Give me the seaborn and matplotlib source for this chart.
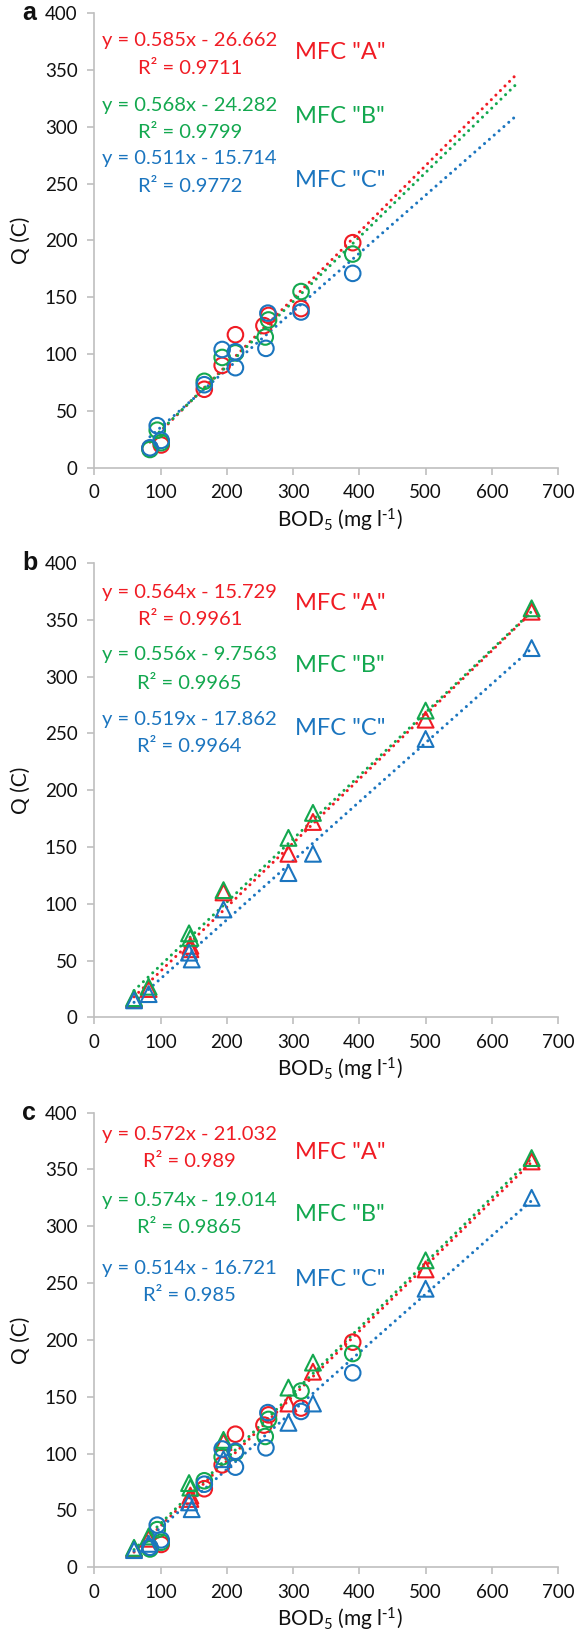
import matplotlib
matplotlib.use("Agg")
import matplotlib.pyplot as plt
import numpy as np
import seaborn as sns

# panel a: circles (BOD5 vs charge) for the three MFCs
circ_bod_A = [84, 101, 166, 193, 213, 256, 263, 312, 390]
circ_q_A = [17, 20, 69, 90, 117, 125, 134, 140, 198]
circ_bod_B = [84, 95, 101, 166, 193, 213, 258, 263, 312, 390]
circ_q_B = [16, 33, 22, 76, 97, 101, 115, 130, 155, 188]
circ_bod_C = [84, 95, 101, 166, 193, 213, 213, 259, 262, 312, 390]
circ_q_C = [17.5, 37, 24, 73, 104, 102, 88, 105, 136, 137, 171]

# panel b: triangles
tri_bod_A = [60, 82, 145, 145, 195, 293, 330, 500, 660]
tri_q_A = [16, 25, 63, 60, 110, 144, 172, 262, 357]
tri_bod_B = [60, 82, 143, 145, 195, 293, 330, 500, 660]
tri_q_B = [17, 27, 74, 70, 112, 158, 180, 270, 360]
tri_bod_C = [60, 82, 143, 147, 195, 293, 330, 500, 660]
tri_q_C = [15, 20.5, 57, 51, 95, 127, 144, 245, 325]

# trendline equations shown on each panel (A, B, C)
slope_a = [0.585, 0.568, 0.511]
icpt_a = [-26.662, -24.282, -15.714]
eq_a = ["y = 0.585x - 26.662", "y = 0.568x - 24.282", "y = 0.511x - 15.714"]
r2_a = ["0.9711", "0.9799", "0.9772"]

slope_b = [0.564, 0.556, 0.519]
icpt_b = [-15.729, -9.7563, -17.862]
eq_b = ["y = 0.564x - 15.729", "y = 0.556x - 9.7563", "y = 0.519x - 17.862"]
r2_b = ["0.9961", "0.9965", "0.9964"]

slope_c = [0.572, 0.574, 0.514]
icpt_c = [-21.032, -19.014, -16.721]
eq_c = ["y = 0.572x - 21.032", "y = 0.574x - 19.014", "y = 0.514x - 16.721"]
r2_c = ["0.989", "0.9865", "0.985"]

forecast_end_a = 640  # excel trendline forecast end in panel a

mfc_names = ['MFC "A"', 'MFC "B"', 'MFC "C"']
colors = ["#F01C24", "#13A84F", "#1B75BF"]

sns.set_theme(style="white")
plt.rcParams["font.family"] = ["Lato", "DejaVu Sans"]
plt.rcParams["mathtext.default"] = "regular"

fig = plt.figure(figsize=(5.82, 16.41), dpi=100)
left, width = 0.162, 0.797
ax_a = fig.add_axes([left, 0.715, width, 0.277])
ax_b = fig.add_axes([left, 0.380, width, 0.277])
ax_c = fig.add_axes([left, 0.045, width, 0.277])


def scatter(ax, xs, ys, marker, color, size):
    sns.scatterplot(x=xs, y=ys, ax=ax, marker=marker, s=size,
                    facecolor="none", edgecolor=color, linewidth=1.5,
                    zorder=3, legend=False)


def trend(ax, x0, x1, m, b, color):
    xs = np.array([x0, x1])
    sns.lineplot(x=xs, y=m * xs + b, ax=ax, color=color, lw=2.2,
                 linestyle=(0, (0.01, 2.1)), dash_capstyle="round", zorder=2)


def labels(ax, eqs, r2s, eq_y, r2_y, mfc_y):
    for i in range(3):
        ax.text(144, eq_y[i], eqs[i], color=colors[i], fontsize=14.5,
                ha="center", va="center")
        ax.text(144, r2_y[i], "R² = " + r2s[i], color=colors[i], fontsize=14.5,
                ha="center", va="center")
        ax.text(371, mfc_y[i], mfc_names[i], color=colors[i], fontsize=17,
                ha="center", va="center")


circ_sets = [(circ_bod_A, circ_q_A), (circ_bod_B, circ_q_B), (circ_bod_C, circ_q_C)]
tri_sets = [(tri_bod_A, tri_q_A), (tri_bod_B, tri_q_B), (tri_bod_C, tri_q_C)]

# panel a
for i, (bx, qy) in enumerate(circ_sets):
    trend(ax_a, min(bx), forecast_end_a, slope_a[i], icpt_a[i], colors[i])
    scatter(ax_a, bx, qy, "o", colors[i], 125)
labels(ax_a, eq_a, r2_a, [376, 319, 272], [351, 295, 247], [365, 309, 253])

# panel b
for i, (bx, qy) in enumerate(tri_sets):
    trend(ax_b, min(bx), max(bx), slope_b[i], icpt_b[i], colors[i])
    scatter(ax_b, bx, qy, "^", colors[i], 130)
labels(ax_b, eq_b, r2_b, [373.5, 319, 262.5], [350, 294, 238], [364.5, 309.5, 254])

# panel c: both sets together
for i in range(3):
    bx = circ_sets[i][0] + tri_sets[i][0]
    trend(ax_c, min(bx), max(bx), slope_c[i], icpt_c[i], colors[i])
    scatter(ax_c, circ_sets[i][0], circ_sets[i][1], "o", colors[i], 125)
    scatter(ax_c, tri_sets[i][0], tri_sets[i][1], "^", colors[i], 130)
labels(ax_c, eq_c, r2_c, [381, 322.5, 263], [357, 299, 239], [364.5, 310, 253])

for ax, letter in zip([ax_a, ax_b, ax_c], ["a", "b", "c"]):
    ax.set_xlim(0, 700)
    ax.set_ylim(0, 400)
    ax.set_xticks(range(0, 701, 100))
    ax.set_yticks(range(0, 401, 50))
    for side in ["top", "right"]:
        ax.spines[side].set_visible(False)
    for side in ["left", "bottom"]:
        ax.spines[side].set_color("#BFBFBF")
        ax.spines[side].set_linewidth(1.2)
    ax.tick_params(axis="both", which="major", length=5, width=1.2,
                   color="#BFBFBF", labelsize=13.5, labelcolor="#111111",
                   bottom=True, left=True, direction="out", pad=7)
    ax.set_xlabel(r"BOD$_5$ (mg l$^{\text{-}1}$)", fontsize=15, color="#111111", labelpad=4)
    ax.xaxis.set_label_coords(0.53, -0.085)
    ax.set_ylabel("Q (C)", fontsize=15, color="#111111", labelpad=10)
    ax.text(-0.155, 1.0, letter, transform=ax.transAxes, fontsize=18,
            fontweight="bold", family="Liberation Sans", ha="left", va="center",
            color="#111111")
    ax.grid(False)

fig.savefig("out.png", dpi=100)
